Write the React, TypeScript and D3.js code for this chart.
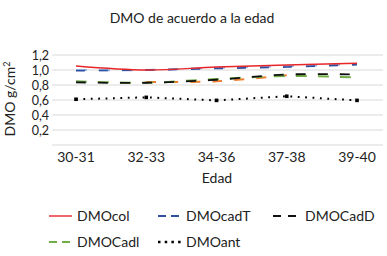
import React from "react";
import * as d3 from "d3";

const categories = ["30-31", "32-33", "34-36", "37-38", "39-40"];
const yTicks = [0.2, 0.4, 0.6, 0.8, 1.0, 1.2];
const dmoCol = [1.053, 1.0, 1.04, 1.067, 1.09];
const dmoCadT = [0.99, 1.0, 1.02, 1.04, 1.07];
const dmoCadTLight = [1.0, 1.0, 1.03, 1.05, 1.08];
const dmoCadD = [0.835, 0.83, 0.87, 0.94, 0.94];
const dmoCadl = [0.85, 0.83, 0.88, 0.92, 0.9];
const dmoCadOrange = [null, 0.84, 0.85, 0.93, null];
const dmoAnt = [0.61, 0.635, 0.595, 0.65, 0.595];

const FONT = "Lato, 'Open Sans', sans-serif";

export default function App() {
  const W = 387, H = 256;
  const x = d3.scalePoint<string>().domain(categories).range([76, 357]);
  const y = d3.scaleLinear().domain([0, 1.2]).range([145, 55]);
  const gridLeft = 52, gridRight = 383;
  const line = d3
    .line<number | null>()
    .defined((d) => d != null)
    .x((_, i) => x(categories[i]) as number)
    .y((d) => y(d as number))
    .curve(d3.curveCatmullRom.alpha(0.5));
  const straight = d3
    .line<number>()
    .x((_, i) => x(categories[i]) as number)
    .y((d) => y(d));

  const series = [
    { data: dmoCadOrange, color: "#ed7d31", dash: "10 12", w: 2 },
    { data: dmoCadl, color: "#70ad47", dash: "11 11", w: 2 },
    { data: dmoCadD, color: "#111", dash: "10 12", w: 1.8 },
    { data: dmoCadTLight, color: "#8faadc", dash: "11 12", w: 2 },
    { data: dmoCadT, color: "#2f4f9f", dash: "9 14", w: 1.6 },
    { data: dmoCol, color: "#e8262a", dash: null, w: 1.4 },
  ];

  const legend = [
    { label: "DMOcol", color: "#e8262a", dash: null, x: 49, y: 216 },
    { label: "DMOcadT", color: "#2f4f9f", dash: "8 5", x: 158, y: 216 },
    { label: "DMOCadD", color: "#111", dash: "8 7", x: 273, y: 216 },
    { label: "DMOCadl", color: "#70ad47", dash: "8 5", x: 49, y: 242 },
    { label: "DMOant", color: "#111", dash: "dot", x: 158, y: 242 },
  ];

  return (
    <svg width={W} height={H} style={{ position: "absolute", left: 0, top: 0, background: "#fff" }} fontFamily={FONT}>
      <text x={192} y={23} textAnchor="middle" fontSize={14} fill="#222">
        DMO de acuerdo a la edad
      </text>
      {yTicks.map((t) => (
        <g key={t}>
          <line x1={gridLeft} x2={gridRight} y1={y(t)} y2={y(t)} stroke="#d9d9d9" strokeWidth={1} />
          <text x={49} y={y(t) + 4.5} textAnchor="end" fontSize={12.5} fill="#222">
            {d3.format(".1f")(t).replace(".", ",")}
          </text>
        </g>
      ))}
      <line x1={gridLeft} x2={gridRight} y1={y(0)} y2={y(0)} stroke="#d9d9d9" strokeWidth={1} />
      {categories.map((c) => (
        <text key={c} x={x(c)} y={162} textAnchor="middle" fontSize={14} fill="#222">
          {c}
        </text>
      ))}
      <text x={217} y={183} textAnchor="middle" fontSize={14} fill="#222">
        Edad
      </text>
      <text transform={`translate(15,${y(0.6) - 1}) rotate(-90)`} textAnchor="middle" fontSize={14} fill="#222">
        DMO g/cm<tspan dy={-5} fontSize={9}>2</tspan>
      </text>
      {series.map((s, i) => (
        <path
          key={i}
          d={line(s.data as (number | null)[]) || ""}
          fill="none"
          stroke={s.color}
          strokeWidth={s.w}
          strokeDasharray={s.dash || undefined}
        />
      ))}
      <path d={straight(dmoAnt) || ""} fill="none" stroke="#000" strokeWidth={2} strokeDasharray="1.8 5.6" />
      {dmoAnt.map((v, i) => (
        <rect key={i} x={(x(categories[i]) as number) - 1.8} y={y(v) - 1.8} width={3.6} height={3.6} fill="#000" />
      ))}
      {legend.map((l) => (
        <g key={l.label}>
          {l.dash === "dot" ? (
            <line x1={l.x} x2={l.x + 23} y1={l.y} y2={l.y} stroke="#000" strokeWidth={2.5} strokeDasharray="2.5 4.2" />
          ) : (
            <line x1={l.x} x2={l.x + 23} y1={l.y} y2={l.y} stroke={l.color} strokeWidth={l.dash ? 1.8 : 1.4} strokeDasharray={l.dash || undefined} />
          )}
          <text x={l.x + (l.label === "DMOCadD" ? 32 : 28)} y={l.y + 5} fontSize={14} fill="#222">
            {l.label}
          </text>
        </g>
      ))}
    </svg>
  );
}
